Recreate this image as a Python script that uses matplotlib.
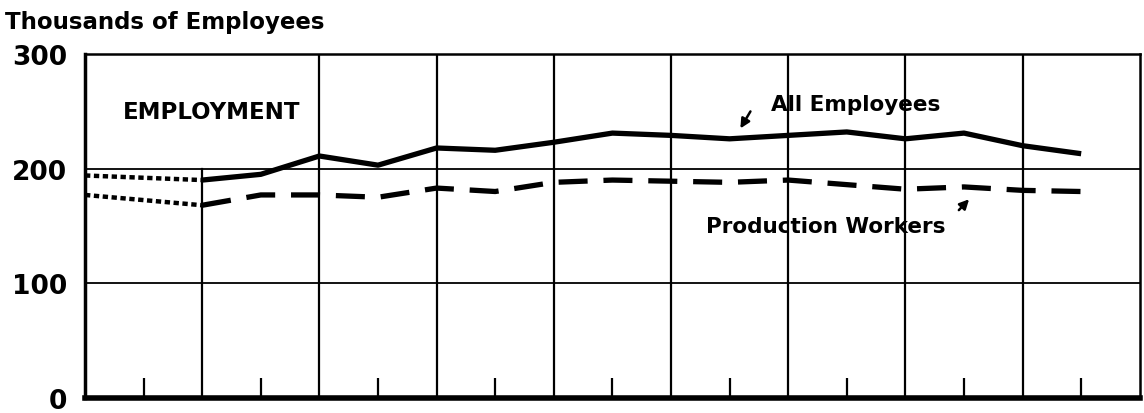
import numpy as np
import matplotlib.pyplot as plt

plt.rcParams['font.family'] = ['DejaVu Sans']

# half-year positions (vertical lines = year boundaries)
x_pos = [1, 1.5, 2, 2.5, 3, 3.5, 4, 4.5, 5, 5.5, 6, 6.5, 7, 7.5, 8, 8.5]
all_employees = [190, 195, 211, 203, 218, 216, 223, 231, 229, 226, 229, 232, 226, 231, 220, 213]
production_workers = [168, 177, 177, 175, 183, 180, 188, 190, 189, 188, 190, 186, 182, 184, 181, 180]

# earlier estimates shown as dotted
x_early = [0, 1]
all_early = [194, 190]
prod_early = [177, 168]

y_ticks = [0, 100, 200, 300]

fig = plt.figure(figsize=(11.44, 4.14), dpi=100)
ax = fig.add_axes([0.0743, 0.037, 0.922, 0.830])

ax.set_xlim(0, 9)
ax.set_ylim(0, 300)

# grid
for y in [100, 200]:
    ax.axhline(y, color='black', lw=1.3, zorder=1)
for x in range(1, 9):
    top = 200 / 300 if x == 1 else 1
    ax.axvline(x, ymax=top, color='black', lw=1.6, zorder=1)
ax.vlines(np.arange(0.5, 9, 1), 0, 17, color='black', lw=1.6, zorder=1)

ax.plot(x_pos, all_employees, color='black', lw=3.8, solid_capstyle='butt', zorder=3)
ax.plot(x_pos, production_workers, color='black', lw=3.8, dashes=(5.5, 3), zorder=3)
ax.plot(x_early, all_early, color='black', lw=3.2, dashes=(1.2, 0.8), zorder=3)
ax.plot(x_early, prod_early, color='black', lw=3.2, dashes=(1.2, 0.8), zorder=3)

ax.set_xticks([])
ax.set_yticks(y_ticks)
ax.set_yticklabels(['0', '100', '200', '300'], fontsize=19, fontweight='bold')
ax.tick_params(axis='y', length=0, pad=13)

for side in ['right', 'top']:
    ax.spines[side].set_linewidth(1.8)
ax.spines['left'].set_linewidth(2.5)
ax.spines['bottom'].set_linewidth(4)

fig.text(0.004, 0.945, 'Thousands of Employees', fontsize=16.5, fontweight='bold',
         ha='left', va='center')
ax.text(0.32, 250, 'EMPLOYMENT', fontsize=16.5, fontweight='bold', ha='left', va='center')
ax.text(5.85, 256, 'All Employees', fontsize=15.5, fontweight='bold', ha='left', va='center')
ax.text(5.3, 150, 'Production Workers', fontsize=15.5, fontweight='bold', ha='left', va='center')

ax.annotate('', xy=(5.58, 233), xytext=(5.69, 252),
            arrowprops=dict(arrowstyle='-|>', color='black', lw=1.8, mutation_scale=14))
ax.annotate('', xy=(7.56, 175), xytext=(7.44, 162),
            arrowprops=dict(arrowstyle='-|>', color='black', lw=1.8, mutation_scale=14))

fig.savefig('out.png', dpi=100)
